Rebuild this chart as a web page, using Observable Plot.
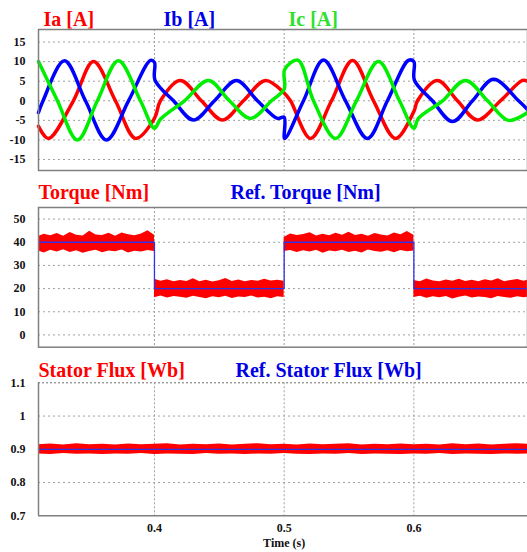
<!DOCTYPE html>
<html><head><meta charset="utf-8">
<script src="https://cdn.jsdelivr.net/npm/d3@7"></script>
<script src="https://cdn.jsdelivr.net/npm/@observablehq/plot@0.6"></script>
<style>
body{margin:0;background:#fff;width:527px;height:552px;overflow:hidden}
#chart svg{display:block}
</style></head><body><div id="chart"></div>
<script>
// ---- axes ----
const xDomain = [0.3106, 0.6876];
const xTicks = [0.4, 0.5, 0.6];
const currentTicks = [-15, -10, -5, 0, 5, 10, 15];
const torqueTicks = [0, 10, 20, 30, 40, 50];
const fluxTicks = [0.7, 0.8, 0.9, 1, 1.1];

// ---- phase currents (key points) ----
const iaT = [0.3106,0.3183,0.3375,0.3530,0.3699,0.3854,0.4,0.4046,0.4200,0.4362,0.4524,0.4686,0.4856,0.5,0.5049,0.5203,0.5365,0.5527,0.5689,0.5858,0.6,0.6028,0.6182,0.6336,0.6490,0.6668,0.6837,0.6876];
const iaV = [-6.5,-9.6,0,10,0,-9.6,-4.5,0,5.2,0,-4.9,0,5.2,2,0,-9.6,0,10.3,0,-9.6,-2.7,0,5.2,0,-4.9,0,5.2,5];
const ibT = [0.3106,0.3141,0.3306,0.3468,0.3630,0.3800,0.3969,0.4,0.4004,0.4147,0.4301,0.4463,0.4632,0.4794,0.4948,0.5,0.5004,0.5149,0.5303,0.5473,0.5642,0.5796,0.5958,0.6,0.6004,0.6143,0.6298,0.6452,0.6614,0.6807,0.6876];
const ibV = [-3,0,10.2,0,-10,0,10.3,9.8,5.3,0,-4.9,0,5.2,0,-4.5,-4.2,-9.6,0,10.4,0,-9.6,0,10.3,10,5.3,0,-5.3,0,5.5,0,-2.2];
const icT = [0.3106,0.3252,0.3406,0.3560,0.3722,0.3892,0.4,0.4046,0.4231,0.4416,0.4578,0.4740,0.4902,0.5,0.5004,0.5106,0.5226,0.5396,0.5557,0.5727,0.5889,0.6,0.6035,0.6221,0.6398,0.6568,0.6729,0.6876];
const icV = [10,0,-10,0,10.2,0,-7,-4.7,0,5.2,0,-4.5,0,3,8,10.4,0,-9.6,0,10,0,-7,-4.5,0,5.2,0,-5,-3];

// ---- torque (noise envelope) ----
const torqueT = [0.3106,0.315,0.32,0.325,0.33,0.335,0.34,0.345,0.35,0.355,0.36,0.365,0.37,0.375,0.38,0.385,0.39,0.395,0.4,
  0.4,0.405,0.41,0.415,0.42,0.425,0.43,0.435,0.44,0.445,0.45,0.455,0.46,0.465,0.47,0.475,0.48,0.485,0.49,0.495,0.5,
  0.5,0.505,0.51,0.515,0.52,0.525,0.53,0.535,0.54,0.545,0.55,0.555,0.56,0.565,0.57,0.575,0.58,0.585,0.59,0.595,0.6,
  0.6,0.605,0.61,0.615,0.62,0.625,0.63,0.635,0.64,0.645,0.65,0.655,0.66,0.665,0.67,0.675,0.68,0.685,0.6876];
const torqueHi = [42.5,43.5,42.8,43.8,42.6,44.2,43.0,42.7,44.8,43.1,42.9,43.9,42.6,44.0,43.2,42.8,43.6,45.0,43.0,
  24.0,23.2,23.8,22.9,23.5,23.1,24.2,23.0,23.6,22.8,23.4,24.3,23.1,23.7,22.9,23.5,23.2,24.0,23.3,23.6,23.2,
  42.0,43.6,42.9,43.3,44.1,42.7,43.5,42.8,43.9,43.0,44.3,42.9,43.4,42.6,43.8,43.1,42.7,44.0,43.2,44.6,43.0,
  23.5,23.0,24.1,23.3,22.9,23.7,23.2,24.0,23.1,23.6,22.9,23.8,23.3,24.2,23.0,23.5,23.9,23.2,23.6];
const torqueLo = [36.2,35.4,36.5,35.8,36.8,35.6,36.3,35.2,36.0,36.6,35.5,36.2,35.9,36.7,35.4,36.1,35.8,36.4,36.0,
  16.0,16.8,15.9,16.6,16.3,15.8,16.7,16.2,15.6,16.5,16.0,16.7,15.7,16.4,16.1,16.8,15.9,16.3,15.6,16.5,16.2,
  36.0,36.4,35.6,36.3,35.8,36.6,35.3,36.2,35.9,36.5,35.6,36.1,35.4,36.7,36.0,35.7,36.3,35.5,36.4,35.9,36.2,
  16.2,16.7,15.8,16.5,16.0,16.6,15.5,16.3,16.8,15.9,16.4,16.1,15.6,16.6,16.2,15.8,16.5,16.0,16.3];
const refTorqueT = [0.3106,0.4,0.4,0.5,0.5,0.6,0.6,0.6876];
const refTorqueV = [40,40,20,20,40,40,20,20];

// ---- stator flux ----
const fluxT = [0.3106,0.32,0.33,0.34,0.35,0.36,0.37,0.38,0.39,0.4,0.41,0.42,0.43,0.44,0.45,0.46,0.47,0.48,0.49,0.5,
  0.51,0.52,0.53,0.54,0.55,0.56,0.57,0.58,0.59,0.6,0.61,0.62,0.63,0.64,0.65,0.66,0.67,0.68,0.6876];
const fluxHi = [0.914,0.916,0.913,0.917,0.914,0.915,0.913,0.916,0.914,0.915,0.917,0.913,0.915,0.914,0.916,0.913,0.915,0.917,0.914,0.915,
  0.913,0.916,0.914,0.915,0.917,0.913,0.915,0.914,0.916,0.914,0.915,0.913,0.917,0.914,0.916,0.913,0.915,0.917,0.915];
const fluxLo = [0.886,0.884,0.887,0.885,0.886,0.884,0.886,0.885,0.887,0.884,0.886,0.885,0.884,0.887,0.885,0.886,0.884,0.886,0.885,0.887,
  0.885,0.884,0.886,0.885,0.887,0.884,0.886,0.885,0.884,0.886,0.885,0.887,0.884,0.886,0.885,0.884,0.886,0.885,0.886];
const refFluxT = [0.3106, 0.6876];
const refFluxV = [0.9, 0.9];

// ---- titles ----
const currentTitles = [["Ia [A]", 5, "#ff0000"], ["Ib [A]", 125, "#0000e6"], ["Ic [A]", 250, "#2ee02e"]];
const torqueTitles = [["Torque [Nm]", 0, "#ff0000"], ["Ref. Torque [Nm]", 192, "#0000e6"]];
const fluxTitles = [["Stator Flux [Wb]", 0, "#ff0000"], ["Ref. Stator Flux [Wb]", 197, "#0000e6"]];

const zip = (T, V) => T.map((t, i) => ({t, v: V[i]}));
const band = (T, L, H) => T.map((t, i) => ({t, lo: L[i], hi: H[i]}));

const FONT = '"Liberation Serif", "Times New Roman", serif';
const grid = "#a0a0a0";

function titleMarks(list, dy) {
  return list.map(([s, dx, c]) => Plot.text([s], {text: d => d, frameAnchor: "top-left", dx, dy,
    textAnchor: "start", lineAnchor: "bottom", fill: c, fontSize: 20, fontWeight: "bold", fontFamily: FONT}));
}

function panel({height, marginTop, marginBottom, yDomain, yTicks, xAxis, marks}) {
  return Plot.plot({
    width: 527, height, marginLeft: 38, marginRight: 0, marginTop, marginBottom,
    style: {fontFamily: FONT, fontWeight: "bold", fontSize: "12px", color: "#111", background: "#fff", overflow: "visible"},
    x: xAxis
      ? {domain: xDomain, ticks: xTicks, tickSize: 0, tickPadding: 8, label: null, tickFormat: d => String(d)}
      : {domain: xDomain, axis: null},
    y: {domain: yDomain, ticks: yTicks, tickSize: 0, tickPadding: 13, label: null, tickFormat: d => String(d)},
    marks
  });
}

const chart = document.getElementById("chart");

chart.append(panel({
  height: 175, marginTop: 29, marginBottom: 5, yDomain: [-17.8, 18.2], yTicks: currentTicks,
  marks: [
    Plot.ruleY(currentTicks, {stroke: grid, strokeDasharray: "2,3"}),
    Plot.ruleX(xTicks, {stroke: grid, strokeDasharray: "2,2"}),
    Plot.line(zip(iaT, iaV), {x: "t", y: "v", stroke: "#ff0000", strokeWidth: 3.5, curve: "catmull-rom"}),
    Plot.line(zip(ibT, ibV), {x: "t", y: "v", stroke: "#0000ff", strokeWidth: 3.5, curve: "catmull-rom"}),
    Plot.line(zip(icT, icV), {x: "t", y: "v", stroke: "#00ee00", strokeWidth: 3.5, curve: "catmull-rom"}),
    Plot.frame({stroke: "#808080", strokeWidth: 1.5}),
    ...titleMarks(currentTitles, -4)
  ]
}));

chart.append(panel({
  height: 177, marginTop: 32, marginBottom: 5.3, yDomain: [-5.3, 55], yTicks: torqueTicks,
  marks: [
    Plot.ruleY(torqueTicks, {stroke: grid, strokeDasharray: "2,3"}),
    Plot.ruleX(xTicks, {stroke: grid, strokeDasharray: "2,2"}),
    Plot.areaY(band(torqueT, torqueLo, torqueHi), {x: "t", y1: "lo", y2: "hi", fill: "#ff0000"}),
    Plot.line(zip(refTorqueT, refTorqueV), {x: "t", y: "v", stroke: "#3030e8", strokeWidth: 1.3}),
    Plot.frame({stroke: "#808080", strokeWidth: 1.5}),
    ...titleMarks(torqueTitles, -9)
  ]
}));

chart.append(panel({
  height: 200, marginTop: 30.3, marginBottom: 36.7, yDomain: [0.7, 1.1], yTicks: fluxTicks, xAxis: true,
  marks: [
    Plot.ruleY(fluxTicks.filter(d => d > 0.7 && d < 1.1), {stroke: grid, strokeDasharray: "2,3"}),
    Plot.ruleY([1.1], {stroke: "#707070", strokeDasharray: "2,2"}),
    Plot.ruleX(xTicks, {stroke: grid, strokeDasharray: "2,2"}),
    Plot.areaY(band(fluxT, fluxLo, fluxHi), {x: "t", y1: "lo", y2: "hi", fill: "#ff0000"}),
    Plot.line(zip(refFluxT, refFluxV), {x: "t", y: "v", stroke: "#3030e8", strokeWidth: 1.2}),
    Plot.ruleY([0.7], {stroke: "#808080", strokeWidth: 1.5}),
    Plot.ruleX([xDomain[0]], {stroke: "#808080", strokeWidth: 1.5}),
    Plot.text(["Time (s)"], {x: () => 0.5, text: d => d, frameAnchor: "bottom", dy: 31, fontSize: 12, fontWeight: "bold", fontFamily: FONT, fill: "#111"}),
    ...titleMarks(fluxTitles, -5.6)
  ]
}));
</script></body></html>
